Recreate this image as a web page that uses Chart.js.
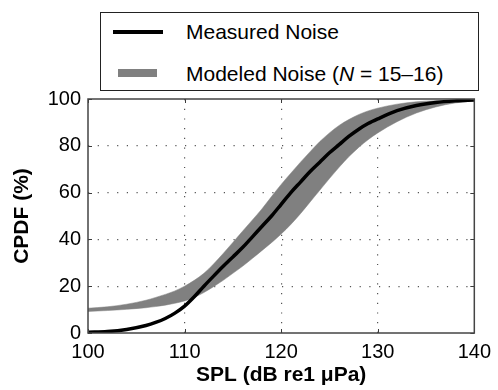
<!DOCTYPE html>
<html>
<head>
<meta charset="utf-8">
<title>CPDF of SPL</title>
<script src="https://cdn.jsdelivr.net/npm/chart.js@4/dist/chart.umd.min.js"></script>
<style>
  body { margin: 0; background: #fff; }
  #wrap { position: relative; width: 498px; height: 390px; font-family: "Liberation Sans", Arial, sans-serif; }
  #cpdf { position: absolute; left: 0; top: 0; }
  #legend { position: absolute; left: 100px; top: 12px; width: 377px; height: 77px;
            border: 1px solid #222; background: #fff; color: #000; font-size: 21px; }
  #legend .txt { position: absolute; left: 85px; line-height: 24px; white-space: nowrap; }
  #legend .sw { position: absolute; }
</style>
</head>
<body>
<div id="wrap">
  <canvas id="cpdf" width="498" height="390"></canvas>
  <div id="legend">
    <div class="sw" id="swMeasured" style="left:12px; top:17px; width:50px; height:4px;"></div>
    <div class="txt" style="top:7px;">Measured Noise</div>
    <div class="sw" id="swModeled" style="left:17px; top:56px; width:39px; height:8px;"></div>
    <div class="txt" style="top:49px;">Modeled Noise (<i>N</i> = 15–16)</div>
  </div>
</div>
<script>
// SPL levels (dB re 1 µPa) where the curves are sampled
const spl = [100, 102, 104, 106, 107, 108, 109, 110, 111, 112, 113, 114, 115, 116, 117, 118,
             119, 120, 121, 122, 123, 124, 125, 126, 127, 128, 129, 130, 132, 134, 136, 138, 140];

// cumulative probability (%) of the measured noise
const measured = [0.3, 0.6, 1.5, 3.2, 4.5, 6.2, 8.5, 11.5, 15.5, 20, 24.3, 28.5, 32.5, 36.5, 41, 45.5,
                  50, 55, 60, 64.5, 69, 73, 77, 80.5, 84, 87, 89.5, 91.5, 95, 97.2, 98.5, 99.2, 99.6];

// envelope of the modeled noise (upper and lower edge of the band)
const modeledHigh = [10.6, 11.2, 12.3, 14, 15.2, 16.5, 18, 20, 22.5, 25.5, 29.5, 34, 38.7, 43.5, 48.2, 53,
                     58.3, 63.5, 68.3, 73, 77.5, 81.8, 85.5, 88.7, 91.2, 93.3, 94.9, 96.1, 97.8, 98.8, 99.3, 99.6, 99.8];
const modeledLow = [9.2, 9.6, 10.1, 10.8, 11.3, 11.9, 12.7, 13.7, 15.2, 17.3, 19.8, 22.5, 25.5, 28.5, 31.8, 35.2,
                    38.6, 42.3, 46.4, 51, 56, 61, 66, 70.8, 75.3, 79.2, 82.6, 85.5, 90.3, 94, 96.6, 98.3, 99.2];

const xTicks = [100, 110, 120, 130, 140];
const yTicks = [0, 20, 40, 60, 80, 100];

const lineColor = '#000000';
const bandColor = '#808080';
const fontFamily = '"Liberation Sans", Arial, sans-serif';

const pts = (ys) => spl.map((x, i) => ({ x: x, y: ys[i] }));

document.getElementById('swMeasured').style.background = lineColor;
document.getElementById('swModeled').style.background = bandColor;

// axes box with inward tick marks
const boxFrame = {
  id: 'boxFrame',
  afterDatasetsDraw(chart) {
    const { ctx, chartArea: a, scales } = chart;
    ctx.save();
    ctx.strokeStyle = '#3a3a3a';
    ctx.lineWidth = 1;
    ctx.beginPath();
    xTicks.forEach((v) => {
      const px = Math.round(scales.x.getPixelForValue(v)) + 0.5;
      ctx.moveTo(px, a.bottom); ctx.lineTo(px, a.bottom - 4);
      ctx.moveTo(px, a.top); ctx.lineTo(px, a.top + 4);
    });
    yTicks.forEach((v) => {
      const py = Math.round(scales.y.getPixelForValue(v)) + 0.5;
      ctx.moveTo(a.left, py); ctx.lineTo(a.left + 4, py);
      ctx.moveTo(a.right, py); ctx.lineTo(a.right - 4, py);
    });
    ctx.stroke();
    ctx.lineWidth = 1.5;
    ctx.strokeStyle = '#444';
    ctx.strokeRect(a.left, a.top, a.right - a.left, a.bottom - a.top);
    ctx.restore();
  }
};

const dotted = (ends) => (c) => (ends.includes(c.tick && c.tick.value) ? 'rgba(0,0,0,0)' : '#555');

new Chart(document.getElementById('cpdf'), {
  type: 'line',
  data: {
    datasets: [
      {
        label: 'Measured Noise',
        data: pts(measured),
        borderColor: lineColor,
        borderWidth: 3.5,
        pointRadius: 0,
        cubicInterpolationMode: 'monotone',
        fill: false
      },
      {
        label: 'Modeled Noise (N = 15–16)',
        data: pts(modeledHigh),
        borderColor: bandColor,
        backgroundColor: bandColor,
        borderWidth: 0.5,
        pointRadius: 0,
        cubicInterpolationMode: 'monotone',
        fill: '+1'
      },
      {
        label: 'Modeled Noise low',
        data: pts(modeledLow),
        borderColor: bandColor,
        borderWidth: 0.5,
        pointRadius: 0,
        cubicInterpolationMode: 'monotone',
        fill: false
      }
    ]
  },
  options: {
    responsive: false,
    animation: false,
    events: [],
    layout: { padding: { top: 99, right: 19, left: 0, bottom: 0 } },
    plugins: {
      legend: { display: false },
      tooltip: { enabled: false }
    },
    scales: {
      x: {
        type: 'linear',
        min: 100,
        max: 140,
        afterFit: (s) => { s.height = 57; },
        afterBuildTicks: (s) => { s.ticks = xTicks.map((v) => ({ value: v })); },
        ticks: { color: '#000', padding: 7, maxRotation: 0, font: { family: fontFamily, size: 20 } },
        grid: { color: dotted([100, 140]), lineWidth: 1.2, drawTicks: false },
        border: { display: false, dash: [1.2, 8.5] },
        title: {
          display: true,
          text: 'SPL (dB re1 μPa)',
          color: '#000',
          padding: { top: 0, bottom: 2 },
          font: { family: fontFamily, size: 21, weight: 'bold' }
        }
      },
      y: {
        min: 0,
        max: 100,
        afterFit: (s) => { s.width = 88; },
        afterBuildTicks: (s) => { s.ticks = yTicks.map((v) => ({ value: v })); },
        ticks: { color: '#000', padding: 7, font: { family: fontFamily, size: 20 } },
        grid: { color: dotted([0, 100]), lineWidth: 1.2, drawTicks: false },
        border: { display: false, dash: [1.2, 8.5] },
        title: {
          display: true,
          text: 'CPDF (%)',
          color: '#000',
          padding: { top: 10, bottom: 0 },
          font: { family: fontFamily, size: 21, weight: 'bold' }
        }
      }
    }
  },
  plugins: [boxFrame]
});
</script>
</body>
</html>
